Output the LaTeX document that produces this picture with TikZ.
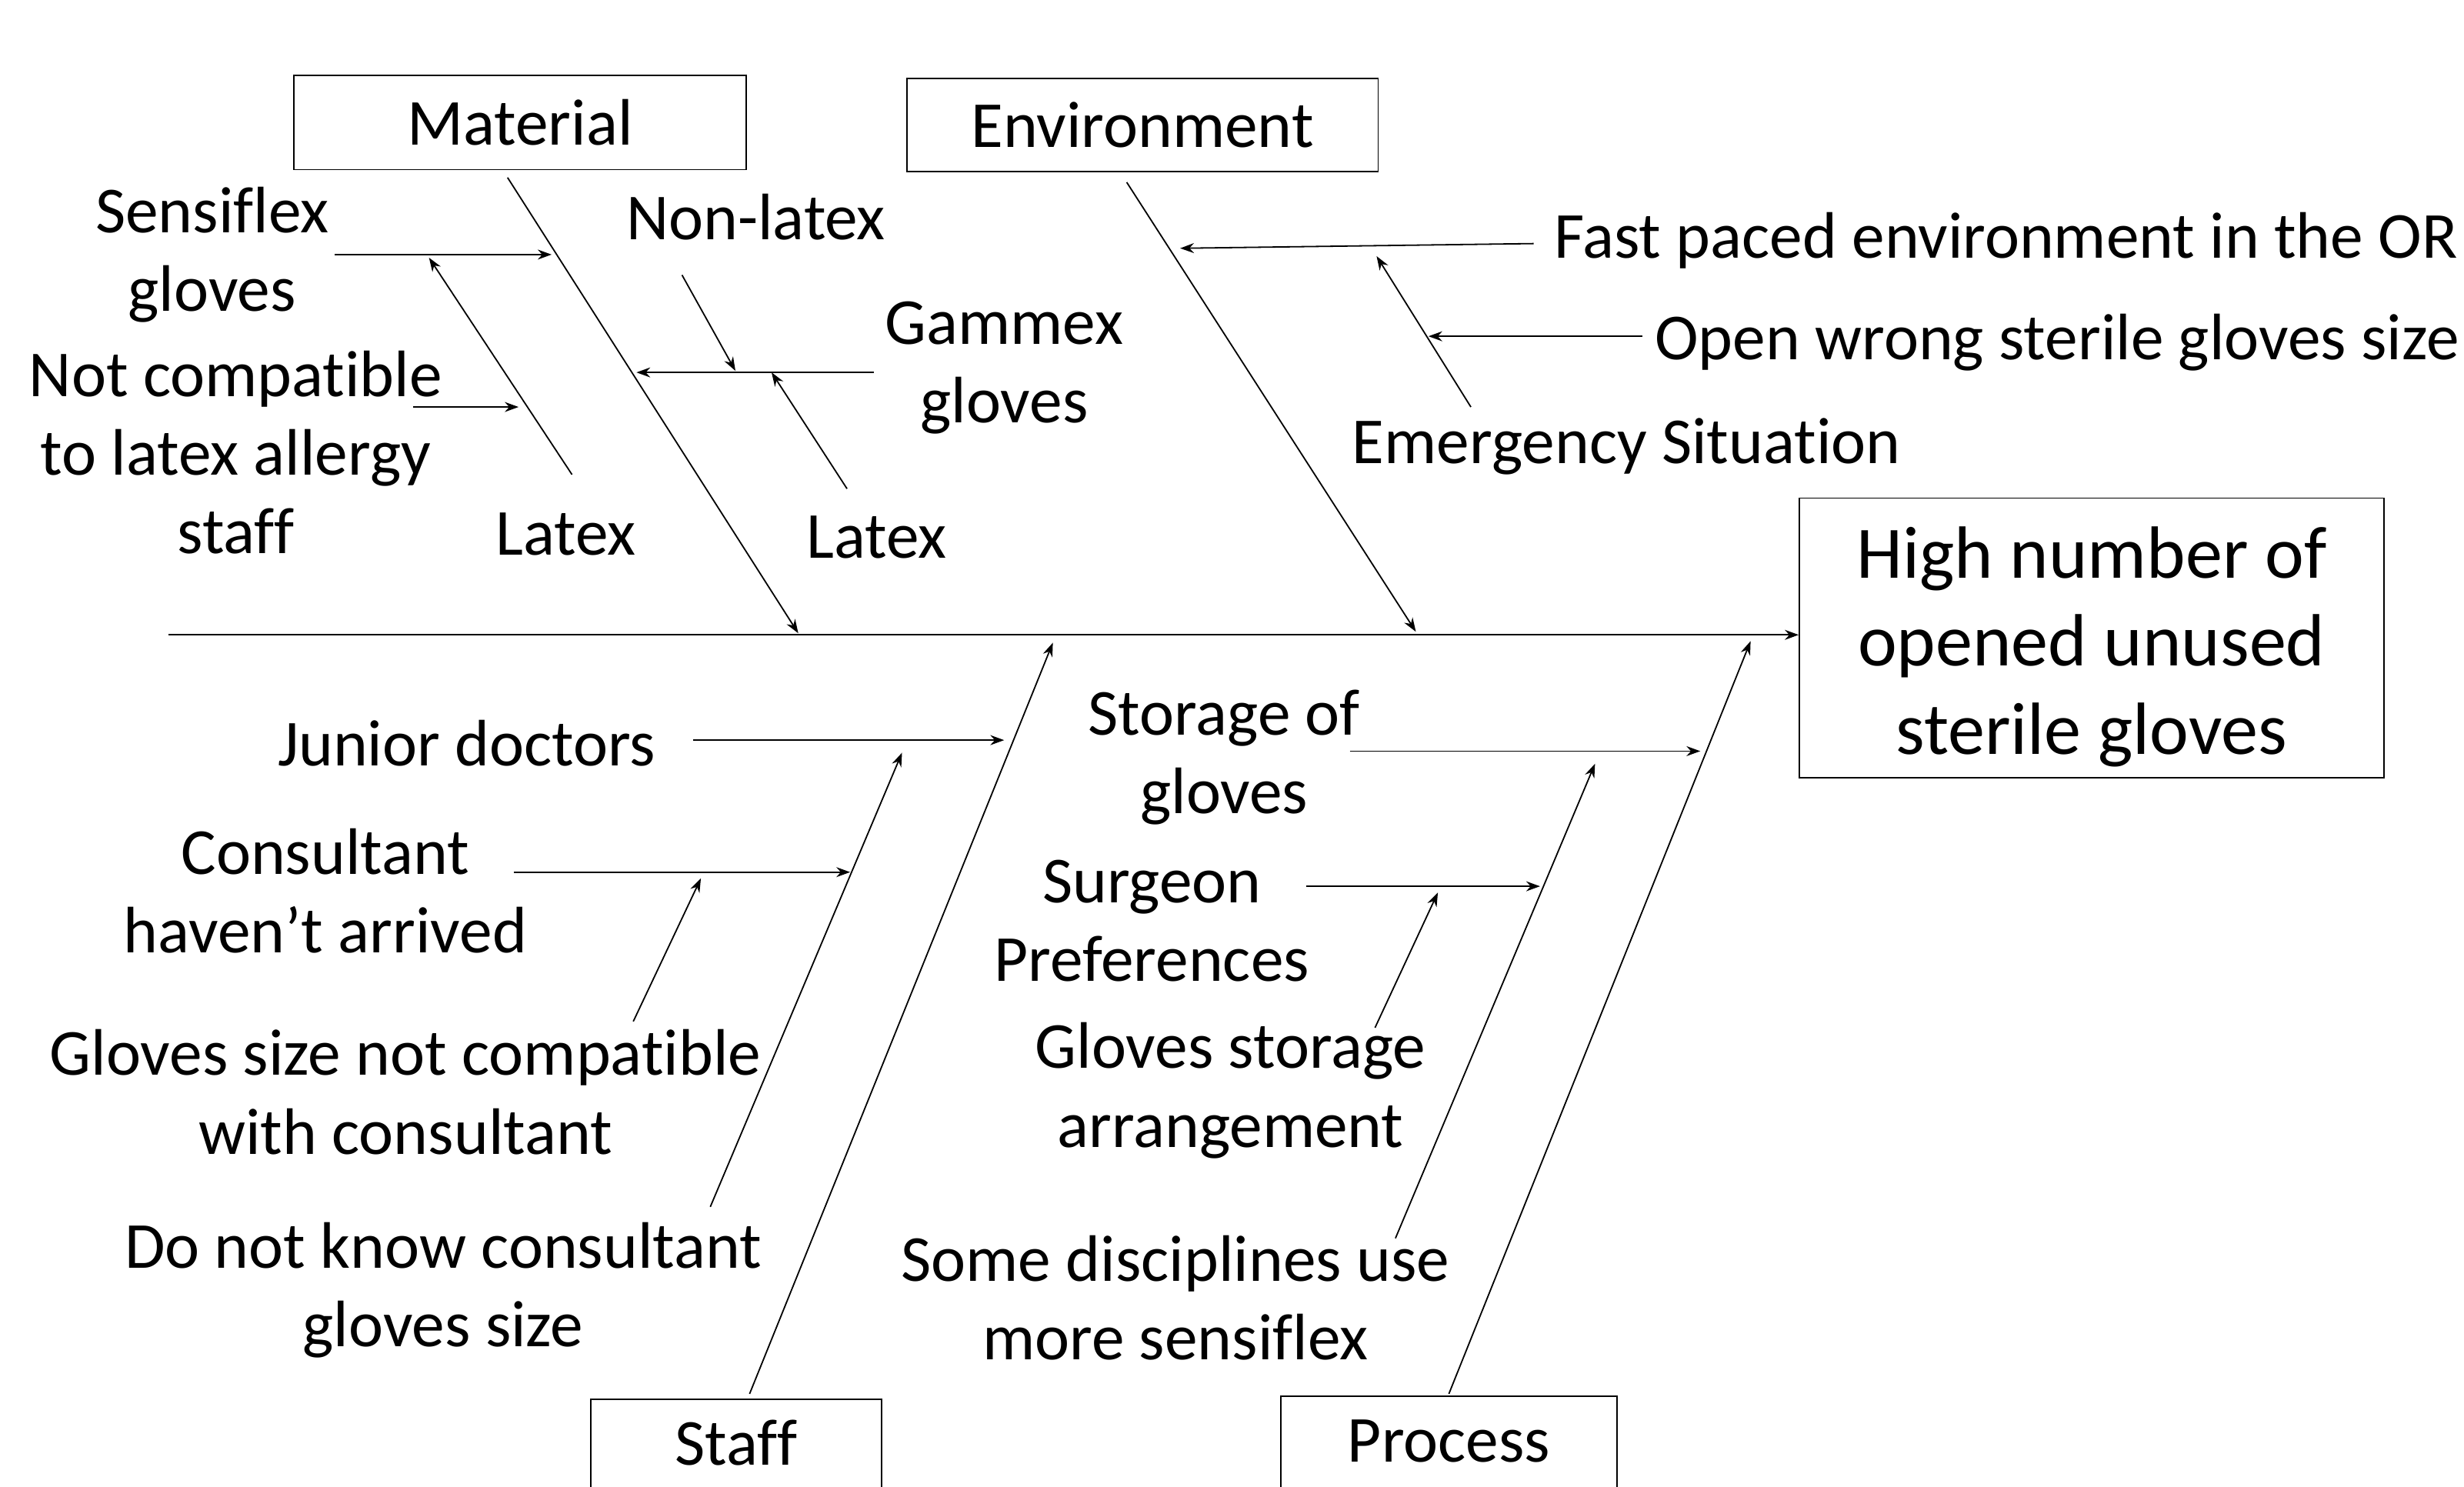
\documentclass[tikz,border=0pt]{standalone}
\usepackage{fontspec}
\setmainfont{Carlito}[Ligatures=NoCommon]
\usetikzlibrary{arrows.meta}

\begin{document}
\begin{tikzpicture}[x=0.02cm,y=-0.02cm,>={Stealth[length=5pt,width=3.6pt]}]
\useasboundingbox (0,0) rectangle (1568,946);
\begin{scope}[every node/.style={draw,line width=0.5pt,font=\fontsize{23.8}{28.5}\selectfont}]
    \node[minimum width=5.76cm,minimum height=1.2cm] (mat) at (331,78) {Material};
    \node[minimum width=6cm,minimum height=1.18cm] (env) at (727,79.5) {Environment};
    \node[minimum width=7.44cm,minimum height=3.56cm,align=center,
          font=\fontsize{26.8}{32}\selectfont] (effect) at (1331,406)
          {\rule{0pt}{25pt}High number of\\opened unused\\sterile gloves};
    \node[anchor=north,minimum width=3.7cm,inner ysep=0pt,text height=0.84cm,
          text depth=1.2cm] (staff) at (468.5,890) {Staff};
    \node[anchor=north,minimum width=4.28cm,inner ysep=0pt,text height=0.84cm,
          text depth=1.2cm] (proc) at (922,888) {Process};
\end{scope}
\begin{scope}[every node/.style={align=center,font=\fontsize{23.8}{28.5}\selectfont}]
    \node (sensi) at (135,162) {Sensiflex\\gloves};
    \node (latexa) at (360,340) {Latex};
    \node (notcomp) at (150,288) {Not compatible\\to latex allergy\\staff};
    \node (nonlatex) at (481,138) {Non-latex};
    \node (gammex) at (639,234) {Gammex\\gloves};
    \node (latexb) at (558,342) {Latex};
    \node[anchor=west] (fast) at (983,153) {Fast paced environment in the OR};
    \node[anchor=west] (wrong) at (1047,218) {Open wrong sterile gloves size};
    \node (emerg) at (1035,284) {Emergency Situation};
    \node (junior) at (297,473) {Junior doctors};
    \node (consult) at (207,567) {Consultant\\haven’t arrived};
    \node (sizenot) at (258,695) {Gloves size not compatible\\with consultant};
    \node (donot) at (282,821) {Do not know consultant\\gloves size};
    \node (storage) at (779,482) {Storage of\\gloves};
    \node (surgeon) at (733,586) {Surgeon\\Preferences};
    \node (arrange) at (783,694) {Gloves storage\\arrangement};
    \node (some) at (748,826) {Some disciplines use\\more sensiflex};
\end{scope}
% spine and main bones
\coordinate (tail) at (107,404);
\coordinate (m0) at (323,113);  \coordinate (m1) at (508,403);
\coordinate (e0) at (717,116);  \coordinate (e1) at (901,402);
\coordinate (s0) at (477,887);  \coordinate (s1) at (670,409);
\coordinate (p0) at (922,887);  \coordinate (p1) at (1114,408);
\draw[->,line width=0.6pt] (tail) -- (tail -| effect.west);
\begin{scope}[line width=0.5pt]
    \draw[->] (m0) -- (m1);
    \draw[->] (e0) -- (e1);
    \draw[->] (s0) -- (s1);
    \draw[->] (p0) -- (p1);
    % material
    \coordinate (sg0) at (213,162);  \coordinate (sg1) at (351,162);
    \coordinate (la0) at (364,302);  \coordinate (la1) at (273,164);
    \coordinate (nc0) at (263,259);  \coordinate (nc1) at (330,259);
    \coordinate (gm0) at (556,237);  \coordinate (gm1) at (405,237);
    \coordinate (nl0) at (434,175);  \coordinate (nl1) at (468,236);
    \coordinate (lb0) at (539,311);  \coordinate (lb1) at (491,237);
    \draw[->] (sg0) -- (sg1);
    \draw[->] (la0) -- (la1);
    \draw[->] (nc0) -- (nc1);
    \draw[->] (gm0) -- (gm1);
    \draw[->] (nl0) -- (nl1);
    \draw[->] (lb0) -- (lb1);
    % environment
    \coordinate (fp0) at (976,155);  \coordinate (fp1) at (751,158);
    \coordinate (em0) at (936,259);  \coordinate (em1) at (876,163);
    \coordinate (ow0) at (1045,214); \coordinate (ow1) at (909,214);
    \draw[->] (fp0) -- (fp1);
    \draw[->] (em0) -- (em1);
    \draw[->] (ow0) -- (ow1);
    % staff
    \coordinate (jd0) at (441,471);  \coordinate (jd1) at (639,471);
    \coordinate (dn0) at (452,768);  \coordinate (dn1) at (574,479);
    \coordinate (ch0) at (327,555);  \coordinate (ch1) at (541,555);
    \coordinate (gs0) at (403,650);  \coordinate (gs1) at (446,559);
    \draw[->] (jd0) -- (jd1);
    \draw[->] (dn0) -- (dn1);
    \draw[->] (ch0) -- (ch1);
    \draw[->] (gs0) -- (gs1);
    % process
    \coordinate (so0) at (859,478);  \coordinate (so1) at (1082,478);
    \coordinate (sd0) at (888,788);  \coordinate (sd1) at (1015,486);
    \coordinate (sp0) at (831,564);  \coordinate (sp1) at (980,564);
    \coordinate (ga0) at (875,654);  \coordinate (ga1) at (915,568);
    \draw[->] (so0) -- (so1);
    \draw[->] (sd0) -- (sd1);
    \draw[->] (sp0) -- (sp1);
    \draw[->] (ga0) -- (ga1);
\end{scope}
\end{tikzpicture}
\end{document}
